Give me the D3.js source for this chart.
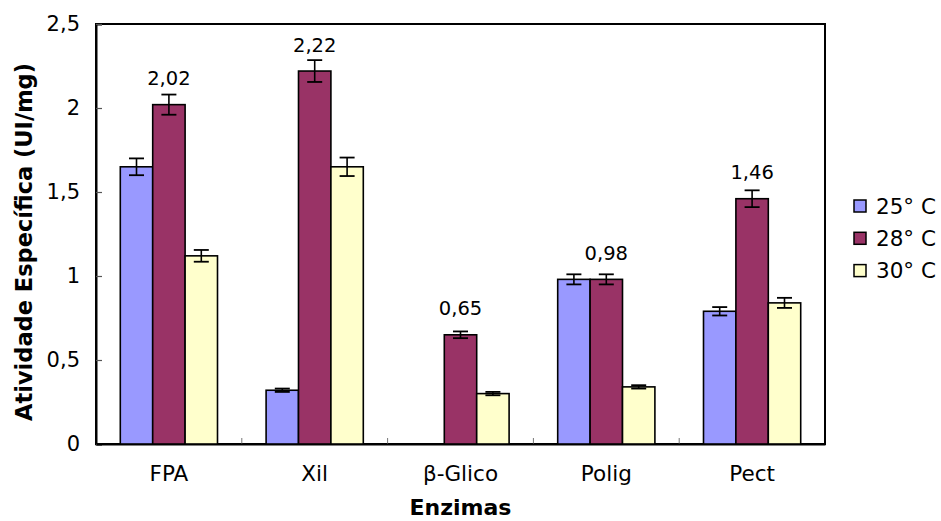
<!DOCTYPE html>
<html>
<head>
<meta charset="utf-8">
<script src="https://cdn.jsdelivr.net/npm/d3@7/dist/d3.min.js"></script>
<style>
  html, body { margin: 0; padding: 0; background: #fff; }
  svg { display: block; }
  text { font-family: "DejaVu Sans", Verdana, sans-serif; fill: #000; }
</style>
</head>
<body>
<svg id="chart" width="941" height="521"></svg>
<script>
// Enzyme specific activity by cultivation temperature
const categories = ["FPA", "Xil", "β-Glico", "Polig", "Pect"];
const seriesNames = ["25° C", "28° C", "30° C"];
const seriesColors = ["#9999FF", "#993366", "#FFFFCC"];
const values25 = [1.65, 0.32, 0.00, 0.98, 0.79];
const values28 = [2.02, 2.22, 0.65, 0.98, 1.46];
const values30 = [1.12, 1.65, 0.30, 0.34, 0.84];
const err25 = [0.05, 0.01, 0.00, 0.03, 0.025];
const err28 = [0.06, 0.065, 0.02, 0.03, 0.05];
const err30 = [0.035, 0.055, 0.01, 0.01, 0.03];
const yTicks = [0, 0.5, 1, 1.5, 2, 2.5];
const yTickLabels = ["0", "0,5", "1", "1,5", "2", "2,5"];
const labelledSeries = 1; // values are printed above the 28° C bars

const seriesValues = [values25, values28, values30];
const seriesErrors = [err25, err28, err30];

const FONT = "DejaVu Sans, Verdana, sans-serif";
const svg = d3.select("#chart");
const plot = { left: 96, top: 24, right: 825, bottom: 444 };

const x0 = d3.scaleBand().domain(categories).range([plot.left, plot.right]).paddingInner(0).paddingOuter(0);
// each group: 3 touching bars, with 0.75 bar width of space on each side
const x1 = d3.scaleBand().domain(d3.range(seriesNames.length))
  .range([0, x0.bandwidth()]).paddingInner(0).paddingOuter(0.75);
const y = d3.scaleLinear().domain([0, 2.5]).range([plot.bottom, plot.top]);

const fmt = v => d3.format(".2f")(v).replace(".", ",");

// frame
svg.append("rect")
  .attr("x", plot.left).attr("y", plot.top)
  .attr("width", plot.right - plot.left).attr("height", plot.bottom - plot.top)
  .attr("fill", "none").attr("stroke", "#000").attr("stroke-width", 2);

// y axis
const yAxis = d3.axisLeft(y).tickValues(yTicks)
  .tickFormat((d, i) => yTickLabels[i]).tickSize(-6).tickPadding(16);
const gy = svg.append("g").attr("transform", `translate(${plot.left},0)`).call(yAxis);
gy.select(".domain").attr("stroke", "#000").attr("stroke-width", 2);
gy.selectAll(".tick line").attr("stroke", "#555").attr("stroke-width", 1.2);
gy.selectAll(".tick text").attr("font-size", 21).attr("font-family", FONT).attr("fill", "#000");

// category boundary ticks on x axis
svg.append("g").selectAll("line")
  .data(categories.slice(1))
  .join("line")
  .attr("x1", d => x0(d)).attr("x2", d => x0(d))
  .attr("y1", plot.bottom).attr("y2", plot.bottom - 6)
  .attr("stroke", "#777").attr("stroke-width", 1);

// x axis labels
const xAxis = d3.axisBottom(x0).tickSize(0).tickPadding(22);
const gx = svg.append("g").attr("transform", `translate(0,${plot.bottom})`).call(xAxis);
gx.select(".domain").attr("stroke", "#000").attr("stroke-width", 2);
gx.selectAll(".tick text").attr("font-size", 21.5).attr("font-family", FONT).attr("fill", "#000");

// bars
const groups = svg.append("g").selectAll("g")
  .data(seriesNames.map((name, s) => ({ s, name })))
  .join("g");

groups.each(function (ser) {
  const g = d3.select(this);
  const rows = categories.map((c, i) => ({ c, v: seriesValues[ser.s][i] }));
  g.selectAll("rect")
    .data(rows)
    .join("rect")
    .attr("x", d => x0(d.c) + x1(ser.s))
    .attr("y", d => y(d.v))
    .attr("width", x1.bandwidth())
    .attr("height", d => y(0) - y(d.v))
    .attr("fill", seriesColors[ser.s])
    .attr("stroke", "#000")
    .attr("stroke-width", 1.6);
});

// error bars
groups.each(function (ser) {
  const g = d3.select(this);
  const rows = categories.map((c, i) => ({ c, v: seriesValues[ser.s][i], e: seriesErrors[ser.s][i] }))
    .filter(d => d.e > 0);
  const cx = d => x0(d.c) + x1(ser.s) + x1.bandwidth() / 2;
  const eb = g.selectAll("g.err").data(rows).join("g").attr("class", "err");
  eb.append("line")
    .attr("x1", cx).attr("x2", cx)
    .attr("y1", d => y(d.v + d.e)).attr("y2", d => y(d.v - d.e))
    .attr("stroke", "#000").attr("stroke-width", 1.6);
  [1, -1].forEach(sign => {
    eb.append("line")
      .attr("x1", d => cx(d) - 7.5).attr("x2", d => cx(d) + 7.5)
      .attr("y1", d => y(d.v + sign * d.e)).attr("y2", d => y(d.v + sign * d.e))
      .attr("stroke", "#000").attr("stroke-width", 1.8);
  });
});

// value labels above the 28° C bars
svg.append("g").selectAll("text")
  .data(categories.map((c, i) => ({ c, v: seriesValues[labelledSeries][i] })))
  .join("text")
  .attr("x", d => x0(d.c) + x1(labelledSeries) + x1.bandwidth() / 2)
  .attr("y", d => y(d.v) - 19.5)
  .attr("text-anchor", "middle")
  .attr("font-size", 19.5)
  .text(d => fmt(d.v));

// axis titles
svg.append("text")
  .attr("transform", `translate(32,${(plot.top + plot.bottom) / 2 + 8}) rotate(-90)`)
  .attr("text-anchor", "middle")
  .attr("font-size", 22.5).attr("font-weight", "bold")
  .text("Atividade Específica (UI/mg)");

svg.append("text")
  .attr("x", (plot.left + plot.right) / 2).attr("y", 515)
  .attr("text-anchor", "middle")
  .attr("font-size", 22).attr("font-weight", "bold")
  .text("Enzimas");

// legend
const legend = svg.append("g").attr("transform", "translate(854,200)");
const li = legend.selectAll("g").data(seriesNames).join("g")
  .attr("transform", (d, i) => `translate(0,${i * 32.3})`);
li.append("rect").attr("width", 12).attr("height", 12)
  .attr("fill", (d, i) => seriesColors[i]).attr("stroke", "#000").attr("stroke-width", 1.5);
li.append("text").attr("x", 22).attr("y", 13.5).attr("font-size", 21.5).text(d => d);
</script>
</body>
</html>
